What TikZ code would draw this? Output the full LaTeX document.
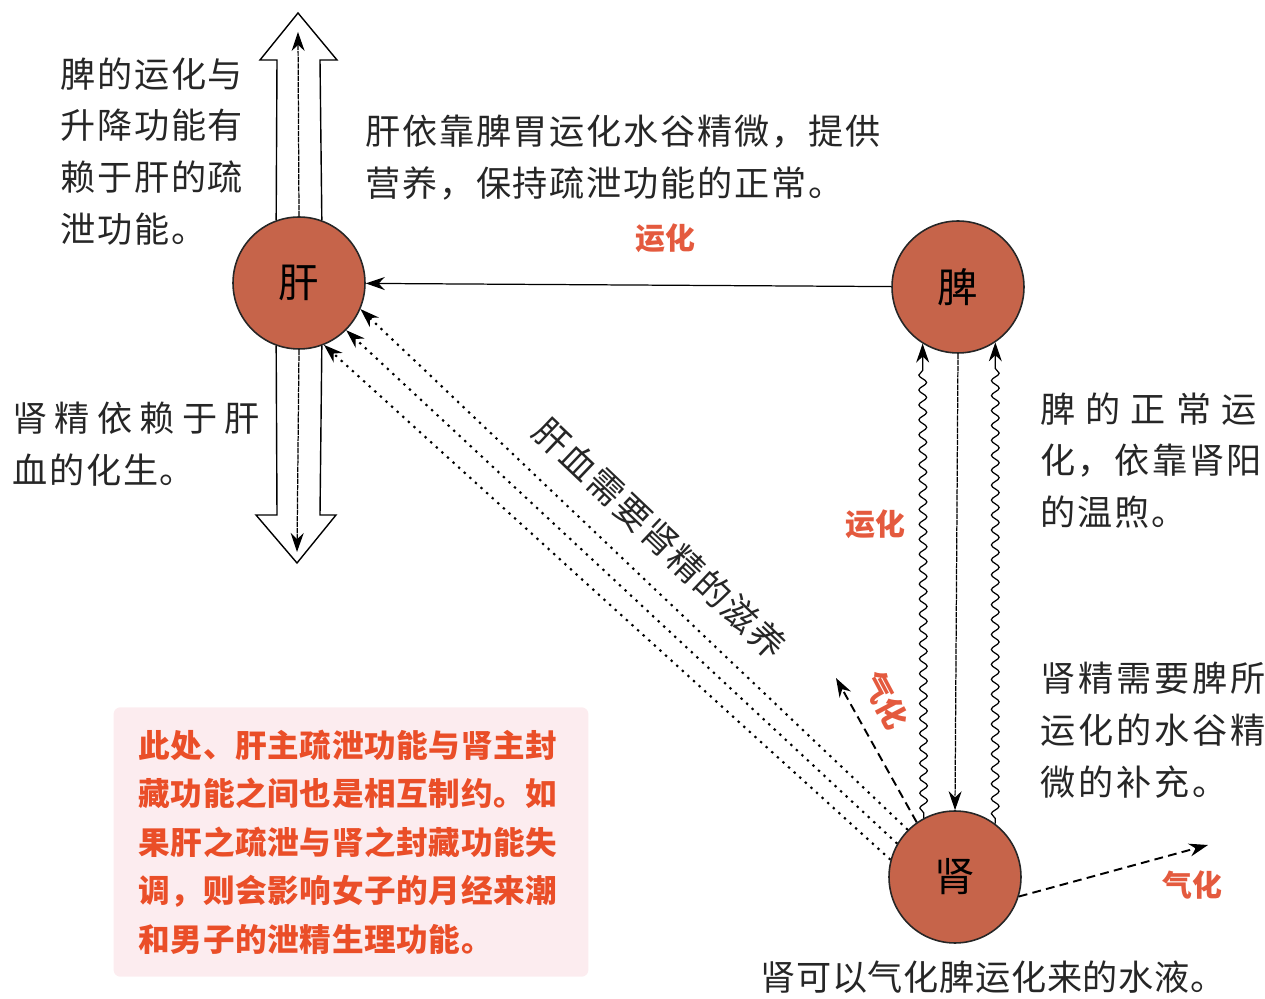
\documentclass[tikz,border=0pt]{standalone}
\usepackage{fontspec}
\usepackage{xcolor}
\usepackage{tikz}
\usetikzlibrary{positioning,arrows.meta,calc,decorations.pathmorphing}
\newfontfamily\cjk{Noto Sans CJK SC}
\newcommand{\notefont}[1]{\cjk\fontsize{20}{29.5}\selectfont\addfontfeature{LetterSpace=#1}}
\newcommand{\spread}[2]{{\addfontfeature{LetterSpace=#1}#2}}
\definecolor{organred}{RGB}{198,100,74}
\definecolor{labelred}{RGB}{228,90,62}
\definecolor{boxred}{RGB}{234,78,40}
\definecolor{boxpink}{RGB}{252,236,239}

\begin{document}
\begin{tikzpicture}[x=0.02cm, y=-0.02cm,
  organ/.style={circle, draw=black!85, line width=0.9pt, fill=organred, minimum size=2.64cm, inner sep=0pt, font=\cjk\fontsize{23}{25}\selectfont},
  note/.style={font=\notefont{#1}, align=left, anchor=north west, inner sep=0pt, text=black!85},
  note/.default=5,
  tag/.style={font=\cjk\bfseries\fontsize{17}{20}\selectfont, text=labelred, inner sep=1pt},
  arr/.style={-{Stealth[length=3.8mm, width=2.6mm]}, line width=0.7pt},
  fine/.style={arr, dash pattern=on 3pt off 0.5pt},
  dotarr/.style={arr, dash pattern=on 1.3pt off 3pt, line width=1.2pt},
  dasharr/.style={arr, dash pattern=on 5pt off 3pt, line width=1.1pt},
  wave/.style={arr, decorate, decoration={snake, amplitude=2.2pt, segment length=8.5pt, pre length=3pt, post length=11pt}},
  hollow/.style={draw, line width=0.8pt, line join=miter},
  memo/.style={fill=boxpink, rounded corners=4pt, text width=8.5cm, inner xsep=0.5cm, inner ysep=0.45cm, align=left, font=\cjk\bfseries\fontsize{18}{27.6}\selectfont\addfontfeature{LetterSpace=2}, text=boxred}]
\useasboundingbox (0,0) rectangle (1265,999);
\node[organ] (gan)  at (299,283) {肝};
\node[organ] (pi)   at (958,287) {脾};
\node[organ] (shen) at (955,877) {肾};
\coordinate (up)   at (298,32);
\coordinate (down) at (297,552);
\coordinate (qi1)  at (836,678);
\coordinate (qi2)  at (1208,845);
\draw[hollow] (gan.110) -- (277,60) -- (260,60) -- (298,13) -- (337,60) -- (320,60) -- (gan.70);
\draw[hollow] (gan.-110) -- (277,515) -- (256,515) -- (297,563) -- (336,515) -- (320,515) -- (gan.-70);
\draw[fine] (gan.north) -- (up);
\draw[fine] (gan.south) -- (down);
\draw[arr] (pi) -- node[tag, above=0.6cm, pos=0.43] {运化} (gan);
\draw[wave] (shen.118) -- node[tag, left=0.3cm, pos=0.62] {运化} (pi.-122);
\draw[wave] (shen.53) -- (pi.-56);
\draw[fine] (pi.south) -- (shen.north);
\draw[dotarr] (shen.135) -- (gan.-23);
\draw[dotarr] (shen.150) -- (gan.-45);
\draw[dotarr] (shen.165) -- (gan.-68);
\draw[dasharr] (shen.125) -- (qi1);
\draw[dasharr] (shen.-17) -- (qi2);
\node[tag, rotate=-62] (qilabel1) at (886,700) {气化};
\node[tag] (qilabel2) at (1192,885) {气化};
\node[note, anchor=center, rotate=-43.5] (nourish) at (660,538) {肝血需要肾精的滋养};
\node[note] (spleen)  at (60,57)   {脾的运化与\\升降功能有\\赖于肝的疏\\泄功能。};
\node[note] (liver)   at (365,115) {肝依靠脾胃运化水谷精微，提供\\营养，保持疏泄功能的正常。};
\node[note] (blood)   at (12,402)  {\spread{21}{肾精依赖于肝}\\血的化生。};
\node[note] (warm)    at (1040,392) {\spread{29}{脾的正常运}\\\spread{6}{化，依靠肾阳}\\的温煦。};
\node[note=8] (supply) at (1040,662) {肾精需要脾所\\运化的水谷精\\微的补充。};
\node[note=2] (water) at (760,960) {肾可以气化脾运化来的水液。};
\node[memo] (restrain) at (351,842) {此处、肝主疏泄功能与肾主封\\藏功能之间也是相互制约。如\\果肝之疏泄与肾之封藏功能失\\调，则会影响女子的月经来潮\\和男子的泄精生理功能。};
\end{tikzpicture}
\end{document}
